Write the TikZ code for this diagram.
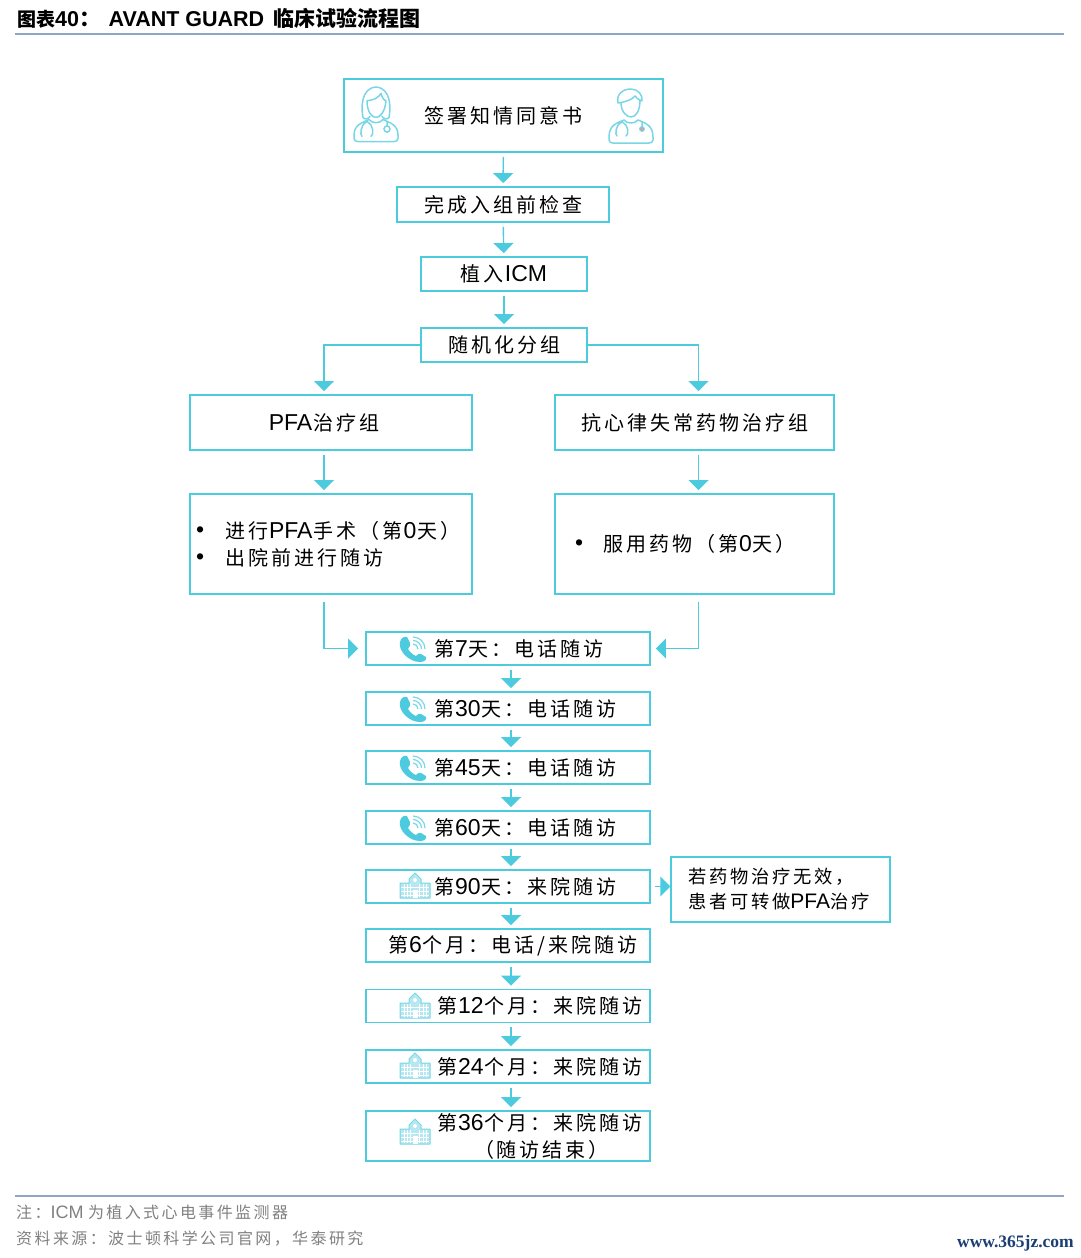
\documentclass[tikz,border=0pt]{standalone}
\usepackage{fontspec}
\setmainfont{Liberation Sans}
\newfontfamily\cjk[LetterSpace=15]{Noto Sans CJK SC}
\newfontfamily\cjktight{Noto Sans CJK SC}
\newfontfamily\siteserif{Liberation Serif}
\usetikzlibrary{arrows.meta}
\newcommand{\zh}[1]{\raisebox{-1pt}{\fontsize{20}{27}\cjk #1}}
\newcommand{\la}[1]{\hspace{1pt}\raisebox{-1pt}{#1}\hspace{1pt}}
\newcommand{\doctorbody}[1]{
  \draw[iconcyan,line width=1.5pt,line join=round,line cap=round]
    (0,#1-6) .. controls (0,36) and (8,34) .. (15,31) .. controls (18,35) and (26,35) .. (29,31)
    .. controls (36,34) and (44,36) .. (44,#1-6) -- (44,#1-3) .. controls (44,#1-1) and (42,#1) .. (40,#1)
    -- (4,#1) .. controls (2,#1) and (0,#1-1) .. (0,#1-3) -- cycle
    (13,33) .. controls (6,36) and (6,46) .. (8,47) (13,33) .. controls (20,36) and (20,46) .. (17,47)
    (33,33) -- (33,37);
}
\definecolor{flowcyan}{HTML}{4CCBDF}
\definecolor{iconcyan}{HTML}{7AD6E6}
\definecolor{rulegray}{HTML}{8FA6C6}
\definecolor{footgray}{HTML}{808080}
\definecolor{sitenavy}{HTML}{1B3F73}
\tikzset{
  flowbox/.style={draw=flowcyan,line width=1.8pt,inner sep=0pt,font=\fontsize{23}{27}\selectfont},
  visitbox/.style={flowbox,minimum width=284pt,text width=284pt,align=left},
  flow/.style={draw=flowcyan,line width=1.4pt,-{Triangle[length=10pt,width=20pt]},shorten <=4pt,shorten >=3pt},
  footnote/.style={anchor=west,inner sep=0pt,text=footgray,font=\fontsize{16}{20}\selectfont},
  pics/phoneicon/.style={code={
    \fill[flowcyan] (1,6) .. controls (2,2) and (5,0) .. (8,1) -- (11,7)
      .. controls (12,9) and (10,11) .. (9,13) .. controls (11,16) and (14,19) .. (17,20)
      .. controls (18,19) and (20,17) .. (22,18) -- (27,21) .. controls (28,24) and (25,26) .. (21,26)
      .. controls (10,26) and (-1,15) .. (1,6) -- cycle;
    \draw[iconcyan,line width=1.2pt] (14,8) arc[start angle=90,end angle=0,radius=5pt];
    \draw[iconcyan,line width=1.2pt] (14,4.5) arc[start angle=90,end angle=0,radius=8.5pt];
    \draw[iconcyan,line width=1.2pt] (14,1) arc[start angle=90,end angle=0,radius=12pt];
  }},
  pics/hospitalicon/.style={code={
    \draw[iconcyan,fill=iconcyan!55,line width=1pt,line join=round] (0,10) -- (9,10) -- (9,6) -- (15,0) -- (21,6) -- (21,10) -- (30,10) -- (30,25) -- (0,25) -- cycle;
    \draw[white,line width=.8pt] (1,14) -- (29,14) (1,18) -- (29,18) (1,22) -- (29,22)
      (4,11) -- (4,24) (7,11) -- (7,24) (10.5,11) -- (10.5,24)
      (19.5,11) -- (19.5,24) (23,11) -- (23,24) (26,11) -- (26,24);
    \fill[white] (12.5,17) rectangle (17.5,25);
    \fill[white] (15,7) circle (2pt);
  }},
  pics/womanicon/.style={code={
    \doctorbody{52}
    \draw[iconcyan,line width=1.5pt,line cap=round,line join=round]
      (9,29) .. controls (7,20) and (7,1) .. (22,0) .. controls (37,1) and (37,20) .. (35,29)
      .. controls (34,31) and (30,31) .. (28,28)
      (9,29) .. controls (10,31) and (14,31) .. (16,28)
      (13,13) .. controls (19,13) and (25,10) .. (27,6) .. controls (28,10) and (30,13) .. (32,13)
      (13,13) .. controls (13,24) and (18,29) .. (22,29) .. controls (26,29) and (31,24) .. (32,13);
    \draw[iconcyan,line width=1.5pt] (33,40) circle (3pt);
  }},
  pics/manicon/.style={code={
    \doctorbody{54}
    \draw[iconcyan,line width=1.5pt,line cap=round,line join=round]
      (9,14) .. controls (7,5) and (14,0) .. (22,0) .. controls (29,0) and (34,6) .. (33,12)
      .. controls (29,10) and (27,9) .. (26,7) .. controls (23,11) and (16,13) .. (9,14) -- cycle
      (12,14) .. controls (12,23) and (18,28) .. (22,28) .. controls (27,28) and (31,22) .. (31,11);
    \draw[iconcyan,fill=flowcyan!50!red!60!white,line width=1pt] (33,40) circle (2.4pt);
  }}
}
\begin{document}
\begin{tikzpicture}[x=1pt,y=-1pt]
  \useasboundingbox (0,0) rectangle (1080,1258);
  \node[anchor=west,inner sep=0pt,font=\fontsize{21.5}{24}\bfseries\selectfont] (title) at (17,18.5)
    {{\fontsize{19}{24}\cjktight 图表}40{\cjktight ：}\hspace{8pt}AVANT GUARD\hspace{3pt} {\fontsize{21}{24}\cjktight 临床试验流程图}};
  \draw[rulegray,line width=1.2pt] (15,34) -- (1064,34);

  \node[flowbox,minimum width=319pt,minimum height=73pt] (consent) at (503.5,115.5) {\raisebox{-1pt}{\zh{签署知情同意书}}};
  \node[flowbox,minimum width=212pt,minimum height=35pt] (exam) at (503,204.5) {\zh{完成入组前检查}};
  \node[flowbox,minimum width=166pt,minimum height=34pt] (implant) at (504,274) {\zh{植入}\la{ICM}};
  \node[flowbox,minimum width=166pt,minimum height=34pt] (random) at (504,345) {\zh{随机化分组}};
  \node[flowbox,minimum width=282pt,minimum height=55pt] (pfa) at (331,422.5) {\la{PFA}\zh{治疗组}\hspace*{15pt}};
  \node[flowbox,minimum width=279pt,minimum height=55pt] (drug) at (694.5,422.5) {\zh{抗心律失常药物治疗组}};
  \node[flowbox,minimum width=282pt,minimum height=100pt,text width=282pt,align=left] (pfacare) at (331,544)
    {\hspace*{6pt}\textbullet\hspace{21pt}\zh{进行}\la{PFA}\zh{手术（第}\la{0}\zh{天）}\\[0pt]
     \hspace*{6pt}\textbullet\hspace{21pt}\zh{出院前进行随访}};
  \node[flowbox,minimum width=279pt,minimum height=100pt,text width=279pt,align=left] (drugcare) at (694.5,544)
    {\hspace*{20pt}\textbullet\hspace{20pt}\zh{服用药物（第}\la{0}\zh{天）}};

  \node[visitbox,minimum height=33pt] (day7) at (508,648.5) {\hspace*{68pt}\zh{第}\la{7}\zh{天：电话随访}};
  \node[visitbox,minimum height=33pt] (day30) at (508,708.5) {\hspace*{68pt}\zh{第}\la{30}\zh{天：电话随访}};
  \node[visitbox,minimum height=33pt] (day45) at (508,767.5) {\hspace*{68pt}\zh{第}\la{45}\zh{天：电话随访}};
  \node[visitbox,minimum height=33pt] (day60) at (508,827.5) {\hspace*{68pt}\zh{第}\la{60}\zh{天：电话随访}};
  \node[visitbox,minimum height=33pt] (day90) at (508,886.5) {\hspace*{68pt}\zh{第}\la{90}\zh{天：来院随访}};
  \node[visitbox,minimum height=33pt] (month6) at (508,945.5) {\hspace*{22pt}\zh{第}\la{6}\zh{个月：电话/来院随访}};
  \node[visitbox,minimum height=33pt] (month12) at (508,1006) {\hspace*{71pt}\zh{第}\la{12}\zh{个月：来院随访}};
  \node[visitbox,minimum height=33pt] (month24) at (508,1066.5) {\hspace*{71pt}\zh{第}\la{24}\zh{个月：来院随访}};
  \node[visitbox,minimum height=50pt] (month36) at (508,1136)
    {\hspace*{71pt}\zh{第}\la{36}\zh{个月：来院随访}\\[0pt]\hspace*{108pt}\zh{（随访结束）}};
  \node[flowbox,minimum width=219pt,minimum height=65pt,text width=219pt,align=left,line width=1.4pt] (rescue) at (780.5,889.5)
    {\hspace*{17pt}{\fontsize{18.3}{25}\cjk 若药物治疗无效，}\\[-2pt]
     \hspace*{17pt}{\fontsize{18.3}{25}\cjk 患者可转做}{\fontsize{21}{25}\selectfont PFA}{\fontsize{18.3}{25}\cjk 治疗}};

  \draw[flow] (consent) -- (exam);
  \draw[flow] (exam) -- (implant);
  \draw[flow] (implant) -- (random);
  \draw[flow,shorten <=0pt] (random.west) -| ([xshift=-7pt]pfa.north);
  \draw[flow,shorten <=0pt] (random.east) -| ([xshift=4pt]drug.north);
  \draw[flow] ([xshift=-7pt]pfa.south) -- ([xshift=-7pt]pfacare.north);
  \draw[flow] ([xshift=4pt]drug.south) -- ([xshift=4pt]drugcare.north);
  \draw[flow,shorten <=7pt,shorten >=7pt] ([xshift=-7pt]pfacare.south) |- (day7.west);
  \draw[flow,shorten <=7pt,shorten >=5pt] ([xshift=4pt]drugcare.south) |- (day7.east);
  \draw[flow] ([xshift=3pt]day7.south) -- ([xshift=3pt]day30.north);
  \draw[flow] ([xshift=3pt]day30.south) -- ([xshift=3pt]day45.north);
  \draw[flow] ([xshift=3pt]day45.south) -- ([xshift=3pt]day60.north);
  \draw[flow] ([xshift=3pt]day60.south) -- ([xshift=3pt]day90.north);
  \draw[flow] ([xshift=3pt]day90.south) -- ([xshift=3pt]month6.north);
  \draw[flow] ([xshift=3pt]month6.south) -- ([xshift=3pt]month12.north);
  \draw[flow] ([xshift=3pt]month12.south) -- ([xshift=3pt]month24.north);
  \draw[flow] ([xshift=3pt]month24.south) -- ([xshift=3pt]month36.north);
  \draw[flow,shorten >=0pt] (day90.east) -- (day90.east -| rescue.west);

  \pic[yscale=1.05] at (354,87) {womanicon};
  \pic at (609,89) {manicon};
  \pic at (399,636) {phoneicon};
  \pic at (399,696) {phoneicon};
  \pic at (399,755) {phoneicon};
  \pic at (399,815) {phoneicon};
  \pic at (400,873) {hospitalicon};
  \pic at (400,993) {hospitalicon};
  \pic at (400,1053) {hospitalicon};
  \pic at (400,1119) {hospitalicon};

  \draw[rulegray,line width=1.2pt] (15,1196) -- (1064,1196);
  \node[footnote] (note) at (16,1212) {{\cjk 注：}{\fontsize{18}{20}\selectfont ICM} {\cjk 为植入式心电事件监测器}};
  \node[footnote] (source) at (16,1239) {\cjk 资料来源：波士顿科学公司官网，华泰研究};
  \node[anchor=east,inner sep=0pt,text=sitenavy,font=\fontsize{17.5}{22}\siteserif\bfseries\selectfont] (site) at (1074,1243) {www.365jz.com};
\end{tikzpicture}
\end{document}
